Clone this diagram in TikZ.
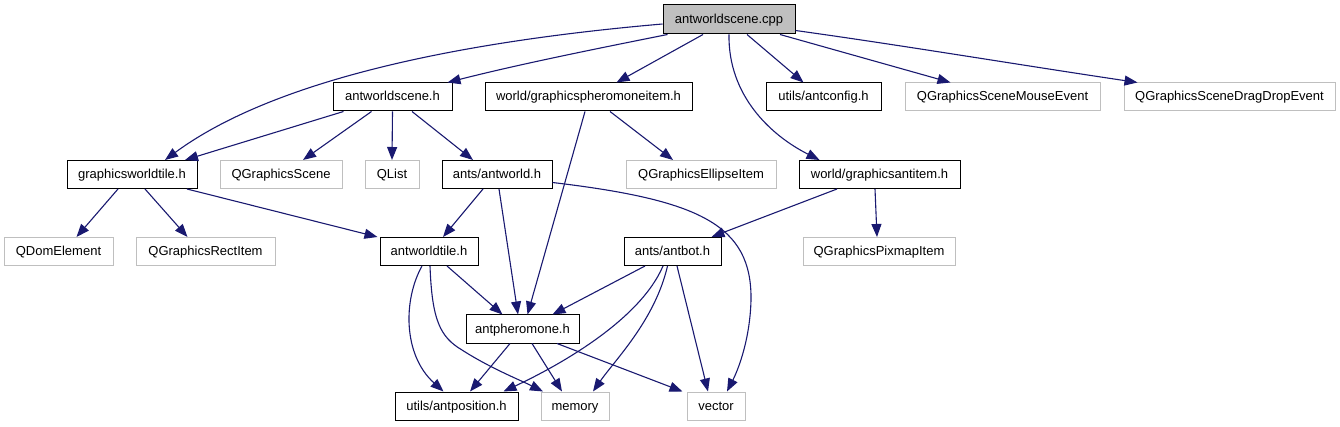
\documentclass[tikz,border=0pt]{standalone}
\usepackage{fontspec}
\setmainfont{Liberation Sans}
\usetikzlibrary{arrows.meta}
\definecolor{edgec}{HTML}{191970}
\definecolor{lgray}{HTML}{BFBFBF}
\begin{document}
\begin{tikzpicture}[x=1pt,y=-1pt,
 box/.style={draw=black,line width=1pt,minimum height=28pt,inner sep=0pt,text height=10pt,text depth=2pt,font=\fontsize{13}{15}\selectfont,anchor=center},
 gbox/.style={box,draw=lgray},
 e/.style={draw=edgec,line width=1.1pt,-{Triangle[length=13pt,width=10pt]}}]
\useasboundingbox (0,0) rectangle (1340,427);
% row 0
\node[box,fill=lgray,minimum width=132pt,minimum height=29pt] (cpp) at (729,19.5) {antworldscene.cpp};
% row 1
\node[box,minimum width=119pt] (ash) at (392.5,97) {antworldscene.h};
\node[box,minimum width=207pt] (gpi) at (588.5,97) {world/graphicspheromoneitem.h};
\node[box,minimum width=115pt] (cfg) at (823.5,97) {utils/antconfig.h};
\node[gbox,minimum width=195pt] (qme) at (1002.5,97) {QGraphicsSceneMouseEvent};
\node[gbox,minimum width=211pt] (qdd) at (1229.5,97) {QGraphicsSceneDragDropEvent};
% row 2
\node[box,minimum width=130pt] (gwt) at (132,174.5) {graphicsworldtile.h};
\node[gbox,minimum width=122pt] (qgs) at (281,174.5) {QGraphicsScene};
\node[gbox,minimum width=54pt] (qlist) at (392,174.5) {QList};
\node[box,minimum width=110pt] (aw) at (497,174.5) {ants/antworld.h};
\node[gbox,minimum width=150pt] (qei) at (701,174.5) {QGraphicsEllipseItem};
\node[box,minimum width=161pt] (gai) at (879.5,174.5) {world/graphicsantitem.h};
% row 3
\node[gbox,minimum width=109pt] (qde) at (58.5,251.5) {QDomElement};
\node[gbox,minimum width=139pt] (qri) at (205.5,251.5) {QGraphicsRectItem};
\node[box,minimum width=98pt] (awt) at (429,251.5) {antworldtile.h};
\node[box,minimum width=97pt] (ab) at (672.5,251.5) {ants/antbot.h};
\node[gbox,minimum width=152pt] (qpi) at (879,251.5) {QGraphicsPixmapItem};
% row 4
\node[box,minimum width=113pt] (ap) at (522.5,329) {antpheromone.h};
% row 5
\node[box,minimum width=123pt] (apos) at (456.5,406) {utils/antposition.h};
\node[gbox,minimum width=68pt] (mem) at (575,406) {memory};
\node[gbox,minimum width=58pt] (vec) at (716,406) {vector};

% edges from cpp
\draw[e] ([yshift=-4.5pt]cpp.west) .. controls (420,45) and (260,90) .. ([xshift=33pt]gwt.north);
\draw[e] ([xshift=5pt]cpp.south west) .. controls (600,48) and (520,64) .. ([xshift=-5pt]ash.north east);
\draw[e] ([xshift=-26pt]cpp.south) -- ([xshift=28pt]gpi.north);
\draw[e] (cpp.south) .. controls (728,95) and (770,135) .. ([xshift=-60pt]gai.north);
\draw[e] ([xshift=18pt]cpp.south) -- ([xshift=-20pt]cfg.north);
\draw[e] ([xshift=51pt]cpp.south) -- ([xshift=-52pt]qme.north);
\draw[e] ([yshift=-11pt]cpp.east) .. controls (900,45) and (1020,65) .. ([xshift=-92pt]qdd.north);
% antworldscene.h
\draw[e] ([xshift=-49pt]ash.south) -- ([xshift=53pt]gwt.north);
\draw[e] ([xshift=-21pt]ash.south) -- ([xshift=22pt]qgs.north);
\draw[e] (ash.south) -- (qlist.north);
\draw[e] ([xshift=19.5pt]ash.south) -- ([xshift=-24pt]aw.north);
% graphicspheromoneitem
\draw[e] ([xshift=-3.5pt]gpi.south) -- ([xshift=5pt]ap.north);
\draw[e] ([xshift=21.5pt]gpi.south) -- ([xshift=-28pt]qei.north);
% graphicsantitem
\draw[e] ([xshift=-42.5pt]gai.south) -- ([xshift=-10pt]ab.north east);
\draw[e] ([xshift=-4.5pt]gai.south) -- ([xshift=-2pt]qpi.north);
% graphicsworldtile
\draw[e] ([xshift=-14pt]gwt.south) -- ([xshift=18pt]qde.north);
\draw[e] ([xshift=13pt]gwt.south) -- ([xshift=-18pt]qri.north);
\draw[e] ([xshift=55pt]gwt.south) -- ([xshift=-2pt]awt.north west);
% antworld
\draw[e] ([xshift=-14pt]aw.south) -- ([xshift=14pt]awt.north);
\draw[e] ([xshift=2pt]aw.south) -- ([xshift=-4.5pt]ap.north);
\draw[e] ([yshift=-8pt]aw.east) .. controls (700,200) and (752,225) .. (751,300) .. controls (750,340) and (738,370) .. ([xshift=11pt]vec.north);
% antworldtile
\draw[e] ([xshift=-7pt]awt.south) .. controls (403,300) and (403,355) .. ([xshift=-13pt]apos.north);
\draw[e] ([xshift=1pt]awt.south) .. controls (432,320) and (440,337) .. (462,350) .. controls (490,368) and (520,380) .. ([xshift=-32pt]mem.north);
\draw[e] ([xshift=18pt]awt.south) -- ([xshift=-20pt]ap.north);
% antbot
\draw[e] ([xshift=-27.5pt]ab.south) -- ([xshift=30pt]ap.north);
\draw[e] ([xshift=-9.5pt]ab.south) .. controls (640,320) and (560,365) .. ([xshift=47pt]apos.north);
\draw[e] ([xshift=-5pt]ab.south) .. controls (655,320) and (615,360) .. ([xshift=18pt]mem.north);
\draw[e] ([xshift=4.5pt]ab.south) -- ([xshift=-8pt]vec.north);
% antpheromone
\draw[e] ([xshift=-12.5pt]ap.south) -- ([xshift=13.5pt]apos.north);
\draw[e] ([xshift=9.5pt]ap.south) -- ([xshift=-13pt]mem.north);
\draw[e] ([xshift=34.5pt]ap.south) -- ([xshift=-4pt]vec.north west);
\end{tikzpicture}
\end{document}
